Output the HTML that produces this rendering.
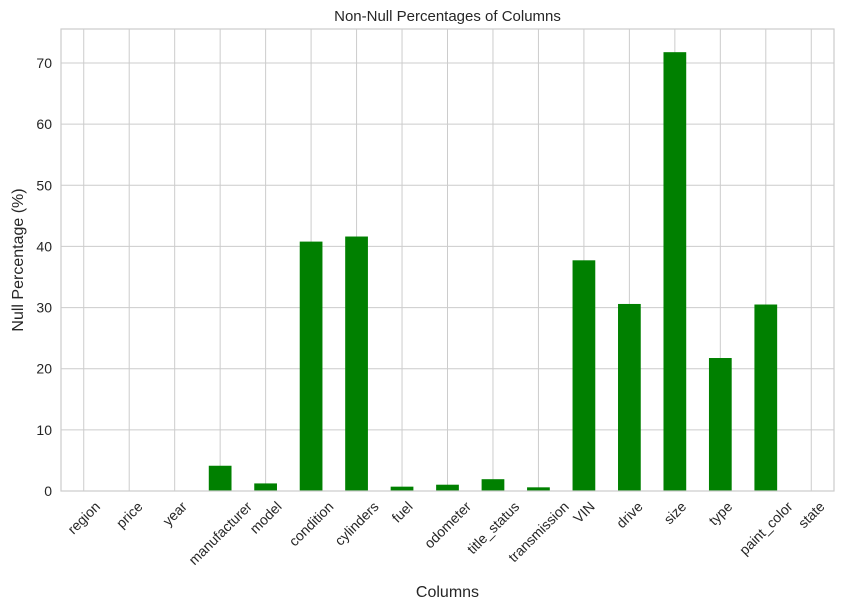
<!DOCTYPE html>
<html><head><meta charset="utf-8"><style>
body{margin:0;background:#fff;}
text{font-family:"Liberation Sans",Arial,sans-serif;fill:#262626;}
</style></head><body>
<svg id="c" width="845" height="609"></svg>
<script>
const categories=["region","price","year","manufacturer","model","condition","cylinders","fuel","odometer","title_status","transmission","VIN","drive","size","type","paint_color","state"];
const values=[0,0,0,4.13,1.24,40.79,41.62,0.71,1.03,1.93,0.6,37.73,30.59,71.77,21.75,30.5,0];
const yTicks=[0,10,20,30,40,50,60,70];
const NS="http://www.w3.org/2000/svg";
const svg=document.getElementById('c');
const L=61,R=834,T=29,B=491;
const step=(R-L)/categories.length;
const xc=i=>L+step*(i+0.5);
const y=v=>B-v*(B-63)/70;
function el(tag,attrs,parent){const e=document.createElementNS(NS,tag);for(const k in attrs)e.setAttribute(k,attrs[k]);(parent||svg).appendChild(e);return e;}
const grid=el('g',{});


yTicks.forEach(t=>{
 el('line',{x1:L,x2:R,y1:y(t),y2:y(t),stroke:'#cccccc','stroke-width':1},grid);
 const tx=el('text',{x:L-9,y:y(t)+5,'text-anchor':'end','font-size':14});
 tx.textContent=t;
 
 
});
categories.forEach((c,i)=>{
 el('line',{x1:xc(i),x2:xc(i),y1:T,y2:B,stroke:'#cccccc','stroke-width':1},grid);
});
const bars=el('g',{});


values.forEach((v,i)=>{
 const w=step*0.5;
 const r=el('rect',{x:xc(i)-w/2,y:y(v),width:w,height:B-y(v),fill:'#008000'},bars);
 
 
});
const frame=el('rect',{x:L,y:T,width:R-L,height:B-T,fill:'none',stroke:'#cccccc','stroke-width':1.2});


categories.forEach((c,i)=>{
 const t=el('text',{'font-size':14,'text-anchor':'middle'});
 t.textContent=c;
 const w=t.getComputedTextLength();
 const cy=499+(w+14)*0.707/2;
 t.setAttribute('x',xc(i));t.setAttribute('y',cy+5);
 t.setAttribute('transform','rotate(-45 '+xc(i)+' '+cy+')');
 
 
});
const title=el('text',{x:(L+R)/2,y:21,'text-anchor':'middle','font-size':15});
title.textContent='Non-Null Percentages of Columns';


const xl=el('text',{x:(L+R)/2,y:597,'text-anchor':'middle','font-size':16});
xl.textContent='Columns';


const yl=el('text',{x:0,y:0,'text-anchor':'middle','font-size':16,transform:'translate(23 '+(T+B)/2+') rotate(-90)'});
yl.textContent='Null Percentage (%)';


</script>
</body></html>
